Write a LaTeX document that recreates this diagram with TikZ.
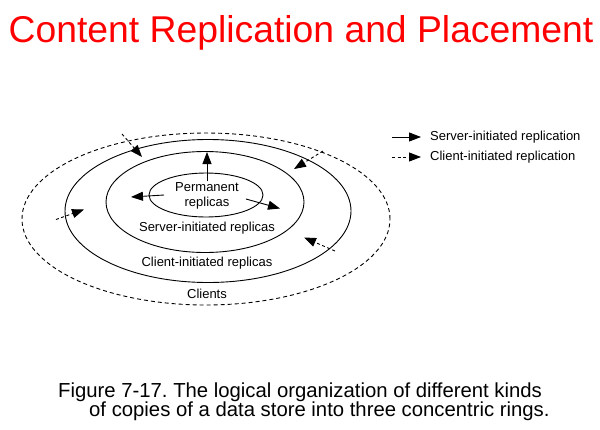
\documentclass[tikz,border=0pt]{standalone}
\usepackage{fontspec}
\setmainfont{Liberation Sans}
\usetikzlibrary{arrows.meta,shapes.geometric}
\frenchspacing
\begin{document}
\begin{tikzpicture}[x=1pt,y=-1pt,
  ring/.style={draw,ellipse,line width=0.9pt,inner sep=0pt},
  dring/.style={ring,dash pattern=on 4pt off 3pt},
  lbl/.style={inner sep=0pt,font=\fontsize{13}{15}\selectfont},
  sarrow/.style={line width=0.9pt,-{Triangle[length=12pt,width=9pt]}},
  carrow/.style={sarrow,dash pattern=on 3pt off 2.5pt},
]
\useasboundingbox (0,0) rectangle (600,429);
% title
\node[inner sep=0pt,anchor=base west,text=red,font=\fontsize{37.3}{40}\selectfont] (title) at (8.5,42) {Content Replication and Placement};
% rings
\node[dring,minimum width=368pt,minimum height=172pt] (clients) at (206,219) {};
\node[ring,minimum width=286pt,minimum height=143pt] (cring) at (208,211) {};
\node[ring,minimum width=198pt,minimum height=101pt] (sring) at (205,202) {};
\node[ring,minimum width=114pt,minimum height=44pt] (perm) at (206,195) {};
% labels
\node[lbl,align=center] (permlbl) at (207,195.5) {Permanent\\replicas};
\node[lbl] (slbl) at (207,228) {Server-initiated replicas};
\node[lbl] (clbl) at (207,263) {Client-initiated replicas};
\node[lbl] (cllbl) at (207,294) {Clients};
% server-initiated arrows
\coordinate (s1a) at (207,181); \coordinate (s1b) at (207,152);
\coordinate (s2a) at (164,195); \coordinate (s2b) at (131,197);
\coordinate (s3a) at (246,199); \coordinate (s3b) at (280,208.5);
\draw[sarrow] (s1a) -- (s1b);
\draw[sarrow] (s2a) -- (s2b);
\draw[sarrow] (s3a) -- (s3b);
% client-initiated arrows
\coordinate (c1a) at (122,134); \coordinate (c1b) at (142,157);
\coordinate (c2a) at (323,151); \coordinate (c2b) at (294,169);
\coordinate (c3a) at (56,219.5); \coordinate (c3b) at (84,209.5);
\coordinate (c4a) at (335,251); \coordinate (c4b) at (304,237.5);
\draw[carrow] (c1a) -- (c1b);
\draw[carrow] (c2a) -- (c2b);
\draw[carrow] (c3a) -- (c3b);
\draw[carrow] (c4a) -- (c4b);
% legend
\coordinate (l1a) at (392,137); \coordinate (l1b) at (421,137);
\coordinate (l2a) at (392,157); \coordinate (l2b) at (421,157);
\draw[sarrow] (l1a) -- (l1b);
\draw[carrow] (l2a) -- (l2b);
\node[lbl,anchor=west] (leg1) at (430,137) {Server-initiated replication};
\node[lbl,anchor=west] (leg2) at (430,157) {Client-initiated replication};
% caption
\node[inner sep=0pt,anchor=base west,font=\fontsize{20.3}{24}\selectfont] (cap1) at (58,397) {Figure 7-17. The logical organization of different kinds};
\node[inner sep=0pt,anchor=base west,font=\fontsize{20.3}{24}\selectfont] (cap2) at (89,416) {of copies of a data store into three concentric rings.};
\end{tikzpicture}
\end{document}
